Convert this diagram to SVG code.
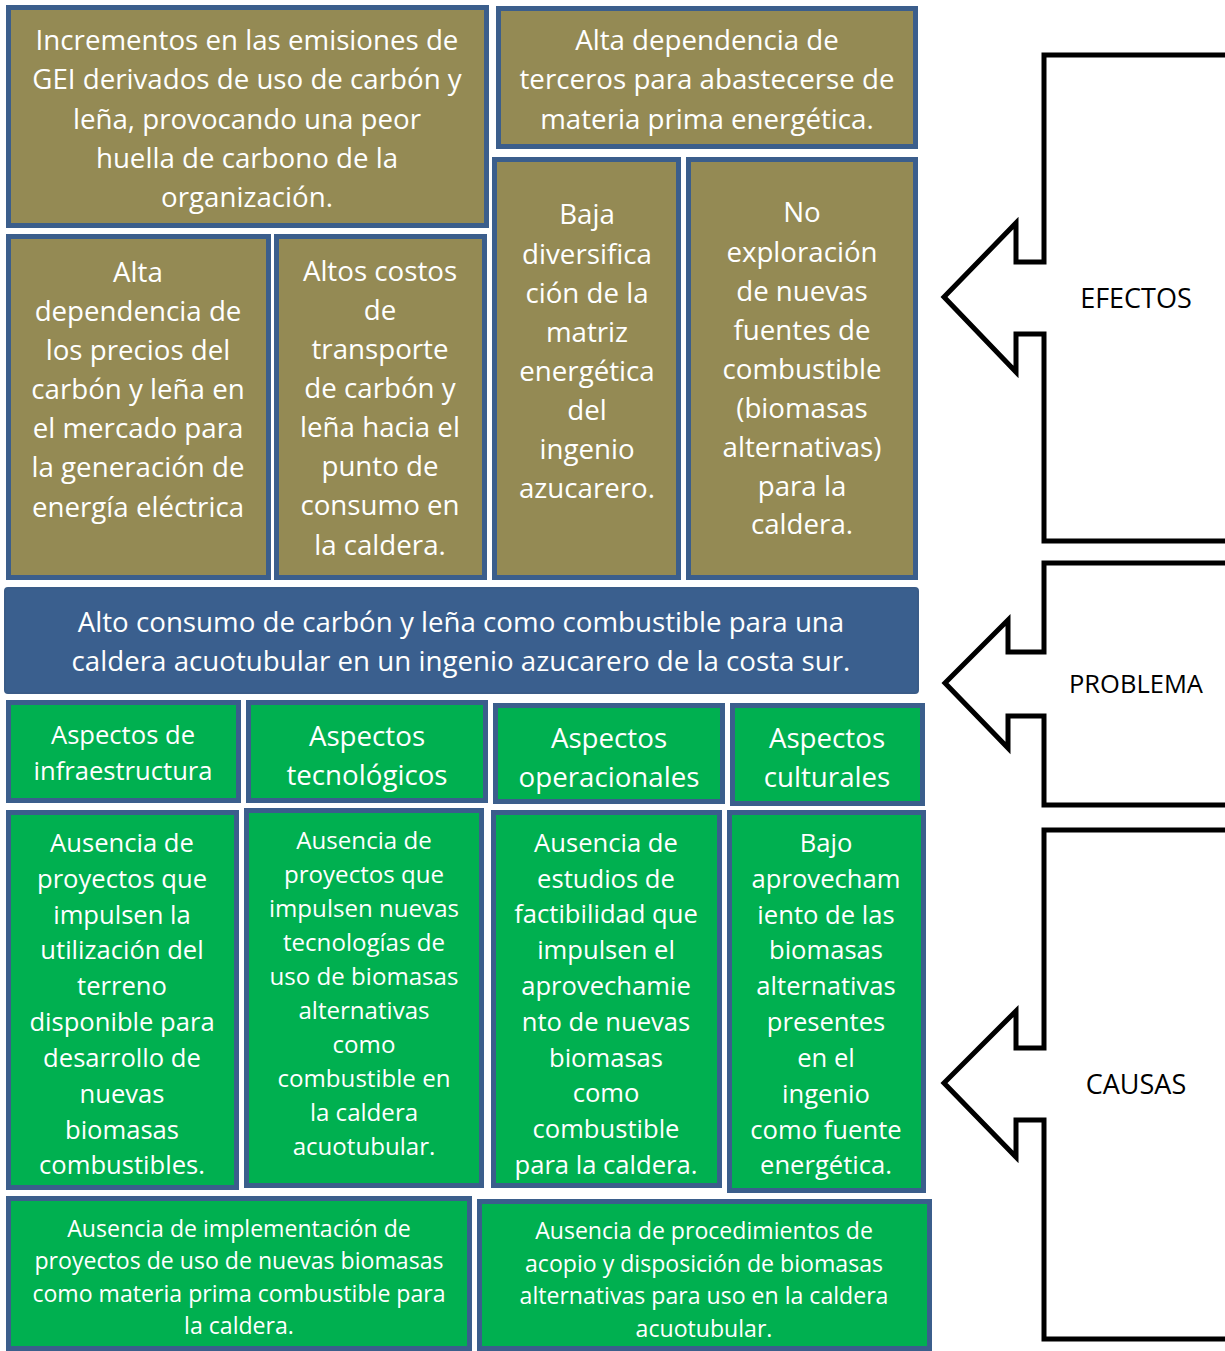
<svg xmlns="http://www.w3.org/2000/svg" width="1225" height="1351" viewBox="0 0 1225 1351">
<style>
.ef{fill:#948A54;stroke:#3B5E8C;stroke-width:5}
.ca{fill:#00B050;stroke:#3B5E8C;stroke-width:5}
.pr{fill:#3A5F8E;stroke:#3A5C88;stroke-width:2}
.arr{fill:#fff;stroke:#000;stroke-width:5;stroke-linejoin:miter}
text{font-family:"Open Sans","Noto Sans","Liberation Sans",sans-serif;fill:#fff;text-anchor:middle}
.t28{font-size:27.7px}
.t26{font-size:25.6px}
.t24{font-size:24.1px}
.t23{font-size:23.1px}
.lbl{fill:#000;font-size:27px}
</style>
<rect width="1225" height="1351" fill="#fff"/>
<g id="connectors">
<path id="arrow-efectos" class="arr" d="M1228,55 L1044,55 L1044,262 L1016,262 L1016,223 L944,297 L1016,372 L1016,334 L1044,334 L1044,541 L1228,541"/>
<path id="arrow-problema" class="arr" d="M1228,563 L1044,563 L1044,652 L1008,652 L1008,620 L945,683 L1008,748 L1008,716 L1044,716 L1044,805 L1228,805"/>
<path id="arrow-causas" class="arr" d="M1228,830 L1044,830 L1044,1048 L1016,1048 L1016,1011 L944,1083 L1016,1157 L1016,1120 L1044,1120 L1044,1339 L1228,1339"/>
</g>
<g id="label-efectos"><text class="lbl" x="1136" y="308">EFECTOS</text></g>
<g id="label-problema"><text class="lbl" x="1136" y="693" style="font-size:25.5px">PROBLEMA</text></g>
<g id="label-causas"><text class="lbl" x="1136" y="1094">CAUSAS</text></g>

<g id="efecto1"><rect class="ef" x="8.5" y="7.5" width="478" height="218"/>
<text class="t28"><tspan x="247" y="50">Incrementos en las emisiones de</tspan><tspan x="247" y="89">GEI derivados de uso de carbón y</tspan><tspan x="247" y="129">leña, provocando una peor</tspan><tspan x="247" y="168">huella de carbono de la</tspan><tspan x="247" y="207">organización.</tspan></text></g>
<g id="efecto2"><rect class="ef" x="498.5" y="8.5" width="417" height="138"/>
<text class="t28"><tspan x="707" y="50">Alta dependencia de</tspan><tspan x="707" y="89">terceros para abastecerse de</tspan><tspan x="707" y="129">materia prima energética.</tspan></text></g>
<g id="efecto3"><rect class="ef" x="8.5" y="236.5" width="260" height="341"/>
<text class="t28"><tspan x="138" y="282">Alta</tspan><tspan x="138" y="321">dependencia de</tspan><tspan x="138" y="360">los precios del</tspan><tspan x="138" y="399">carbón y leña en</tspan><tspan x="138" y="438">el mercado para</tspan><tspan x="138" y="477">la generación de</tspan><tspan x="138" y="517">energía eléctrica</tspan></text></g>
<g id="efecto4"><rect class="ef" x="276.5" y="236.5" width="208" height="341"/>
<text class="t28"><tspan x="380" y="281">Altos costos</tspan><tspan x="380" y="320">de</tspan><tspan x="380" y="359">transporte</tspan><tspan x="380" y="398">de carbón y</tspan><tspan x="380" y="437">leña hacia el</tspan><tspan x="380" y="476">punto de</tspan><tspan x="380" y="515">consumo en</tspan><tspan x="380" y="555">la caldera.</tspan></text></g>
<g id="efecto5"><rect class="ef" x="494.5" y="159.5" width="184" height="418"/>
<text class="t28"><tspan x="587" y="224">Baja</tspan><tspan x="587" y="264">diversifica</tspan><tspan x="587" y="303">ción de la</tspan><tspan x="587" y="342">matriz</tspan><tspan x="587" y="381">energética</tspan><tspan x="587" y="420">del</tspan><tspan x="587" y="459">ingenio</tspan><tspan x="587" y="498">azucarero.</tspan></text></g>
<g id="efecto6"><rect class="ef" x="688.5" y="159.5" width="227" height="418"/>
<text class="t28"><tspan x="802" y="222">No</tspan><tspan x="802" y="262">exploración</tspan><tspan x="802" y="301">de nuevas</tspan><tspan x="802" y="340">fuentes de</tspan><tspan x="802" y="379">combustible</tspan><tspan x="802" y="418">(biomasas</tspan><tspan x="802" y="457">alternativas)</tspan><tspan x="802" y="496">para la</tspan><tspan x="802" y="534">caldera.</tspan></text></g>

<g id="problema"><rect class="pr" x="5" y="588" width="913" height="105" rx="3"/>
<text class="t28"><tspan x="461" y="632">Alto consumo de carbón y leña como combustible para una</tspan><tspan x="461" y="671">caldera acuotubular en un ingenio azucarero de la costa sur.</tspan></text></g>

<g id="aspecto-infra"><rect class="ca" x="8.5" y="702.5" width="230" height="98"/>
<text class="t26"><tspan x="123" y="744">Aspectos de</tspan><tspan x="123" y="780">infraestructura</tspan></text></g>
<g id="aspecto-tecno"><rect class="ca" x="248.5" y="702.5" width="237" height="98"/>
<text class="t28"><tspan x="367" y="746">Aspectos</tspan><tspan x="367" y="785">tecnológicos</tspan></text></g>
<g id="aspecto-oper"><rect class="ca" x="495.5" y="705.5" width="227" height="96"/>
<text class="t28"><tspan x="609" y="748">Aspectos</tspan><tspan x="609" y="787">operacionales</tspan></text></g>
<g id="aspecto-cult"><rect class="ca" x="732.5" y="705.5" width="190" height="98"/>
<text class="t28"><tspan x="827" y="748">Aspectos</tspan><tspan x="827" y="787">culturales</tspan></text></g>

<g id="causa1"><rect class="ca" x="8.5" y="812.5" width="228" height="375"/>
<text class="t26"><tspan x="122" y="852">Ausencia de</tspan><tspan x="122" y="888">proyectos que</tspan><tspan x="122" y="924">impulsen la</tspan><tspan x="122" y="959">utilización del</tspan><tspan x="122" y="995">terreno</tspan><tspan x="122" y="1031">disponible para</tspan><tspan x="122" y="1067">desarrollo de</tspan><tspan x="122" y="1103">nuevas</tspan><tspan x="122" y="1139">biomasas</tspan><tspan x="122" y="1174">combustibles.</tspan></text></g>
<g id="causa2"><rect class="ca" x="246.5" y="810.5" width="235" height="375"/>
<text class="t24"><tspan x="364" y="849">Ausencia de</tspan><tspan x="364" y="883">proyectos que</tspan><tspan x="364" y="917">impulsen nuevas</tspan><tspan x="364" y="951">tecnologías de</tspan><tspan x="364" y="985">uso de biomasas</tspan><tspan x="364" y="1019">alternativas</tspan><tspan x="364" y="1053">como</tspan><tspan x="364" y="1087">combustible en</tspan><tspan x="364" y="1121">la caldera</tspan><tspan x="364" y="1155">acuotubular.</tspan></text></g>
<g id="causa3"><rect class="ca" x="493.5" y="812.5" width="226" height="373"/>
<text class="t26"><tspan x="606" y="852">Ausencia de</tspan><tspan x="606" y="888">estudios de</tspan><tspan x="606" y="923">factibilidad que</tspan><tspan x="606" y="959">impulsen el</tspan><tspan x="606" y="995">aprovechamie</tspan><tspan x="606" y="1031">nto de nuevas</tspan><tspan x="606" y="1067">biomasas</tspan><tspan x="606" y="1102">como</tspan><tspan x="606" y="1138">combustible</tspan><tspan x="606" y="1174">para la caldera.</tspan></text></g>
<g id="causa4"><rect class="ca" x="729.5" y="812.5" width="194" height="378"/>
<text class="t26"><tspan x="826" y="852">Bajo</tspan><tspan x="826" y="888">aprovecham</tspan><tspan x="826" y="924">iento de las</tspan><tspan x="826" y="959">biomasas</tspan><tspan x="826" y="995">alternativas</tspan><tspan x="826" y="1031">presentes</tspan><tspan x="826" y="1067">en el</tspan><tspan x="826" y="1103">ingenio</tspan><tspan x="826" y="1139">como fuente</tspan><tspan x="826" y="1174">energética.</tspan></text></g>

<g id="causa5"><rect class="ca" x="8.5" y="1198.5" width="461" height="150"/>
<text class="t23"><tspan x="239" y="1237">Ausencia de implementación de</tspan><tspan x="239" y="1269">proyectos de uso de nuevas biomasas</tspan><tspan x="239" y="1302">como materia prima combustible para</tspan><tspan x="239" y="1334">la caldera.</tspan></text></g>
<g id="causa6"><rect class="ca" x="479.5" y="1201.5" width="450" height="147"/>
<text class="t23"><tspan x="704" y="1239">Ausencia de procedimientos de</tspan><tspan x="704" y="1272">acopio y disposición de biomasas</tspan><tspan x="704" y="1304">alternativas para uso en la caldera</tspan><tspan x="704" y="1337">acuotubular.</tspan></text></g>
</svg>
